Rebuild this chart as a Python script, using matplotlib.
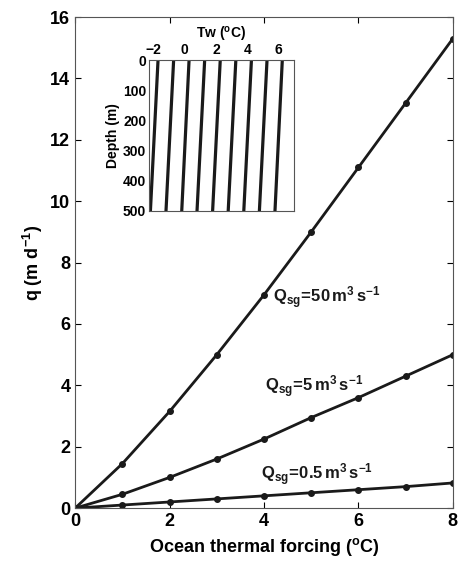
import numpy as np
import matplotlib
matplotlib.use('Agg')
import matplotlib.pyplot as plt

plt.rcParams['font.family'] = ['Liberation Sans', 'DejaVu Sans']
plt.rcParams['font.weight'] = 'bold'
plt.rcParams['mathtext.fontset'] = 'custom'
plt.rcParams['mathtext.rm'] = 'Liberation Sans:bold'
plt.rcParams['mathtext.it'] = 'Liberation Sans:bold'
plt.rcParams['mathtext.bf'] = 'Liberation Sans:bold'

# main panel: melt rate vs thermal forcing
forcing = [0, 1, 2, 3, 4, 5, 6, 7, 8]
q_50 = [0, 1.45, 3.15, 5.0, 6.95, 9.0, 11.1, 13.2, 15.3]
q_5 = [0, 0.45, 1.0, 1.6, 2.25, 2.95, 3.6, 4.3, 5.0]
q_05 = [0, 0.1, 0.2, 0.3, 0.4, 0.5, 0.6, 0.7, 0.82]
labels = [r'$\mathrm{Q_{sg}\!=\!50\,m^3\,s^{-1}}$',
          r'$\mathrm{Q_{sg}\!=\!5\,m^3\,s^{-1}}$',
          r'$\mathrm{Q_{sg}\!=\!0.5\,m^3\,s^{-1}}$']
label_xy = [(4.2, 6.85), (4.03, 3.95), (3.93, 1.1)]

# inset: temperature profiles
depth = [0, 500]
tw_surface = [-1.72, -0.72, 0.27, 1.27, 2.27, 3.27, 4.27, 5.27, 6.25]
tw_bottom = [-2.21, -1.21, -0.2, 0.78, 1.78, 2.78, 3.78, 4.78, 5.78]

ink = '#1a1a1a'
fig = plt.figure(figsize=(4.64, 5.69), dpi=100)
ax = fig.add_axes([0.162, 0.107, 0.814, 0.863])

for q in (q_50, q_5, q_05):
    ax.plot(forcing, q, '-o', color=ink, lw=2, ms=4)
for txt, (tx, ty) in zip(labels, label_xy):
    ax.text(tx, ty, txt, fontsize=12, va='center', ha='left', color=ink)

ax.set_xlim(0, 8)
ax.set_ylim(0, 16)
ax.set_xticks(range(0, 9, 2))
ax.set_yticks(range(0, 17, 2))
ax.tick_params(direction='in', top=True, right=True, labelsize=13, length=4)
ax.set_xlabel(r'Ocean thermal forcing ($^\mathrm{o}$C)', fontsize=13, fontweight='bold')
ax.set_ylabel(r'q (m d$^\mathrm{-1}$)', fontsize=13, fontweight='bold')
for s in ax.spines.values():
    s.set_linewidth(0.8)
    s.set_color('#555555')

ins = fig.add_axes([149 / 464, 1 - 211 / 569, 145 / 464, 151 / 569])
for t0, t1 in zip(tw_surface, tw_bottom):
    ins.plot([t0, t1], depth, color=ink, lw=2.3)
ins.set_xlim(-2.3, 7)
ins.set_ylim(500, 0)
ins.set_xticks(range(-2, 7, 2))
ins.set_yticks(range(0, 501, 100))
ins.xaxis.tick_top()
ins.xaxis.set_label_position('top')
ins.tick_params(direction='in', length=0, labelsize=10, pad=2)
ins.set_xlabel(r'Tw ($^\mathrm{o}$C)', fontsize=10, fontweight='bold', labelpad=3)
ins.set_ylabel('Depth (m)', fontsize=10, fontweight='bold', labelpad=2)
for s in ins.spines.values():
    s.set_linewidth(0.8)
    s.set_color('#555555')

fig.savefig('out.png', dpi=100, facecolor='white')
